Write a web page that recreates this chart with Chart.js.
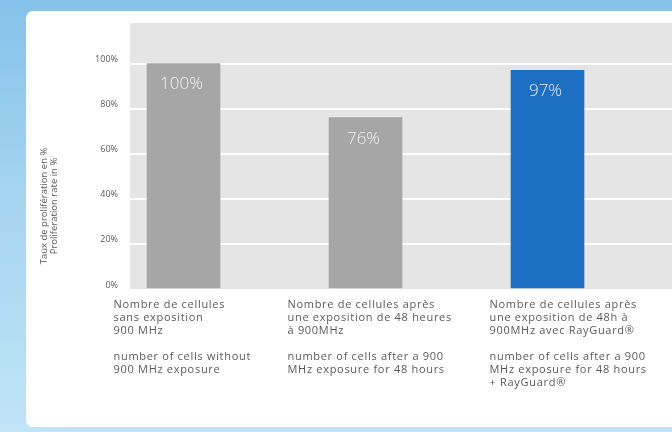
<!DOCTYPE html>
<html><head><meta charset="utf-8">
<script src="https://cdn.jsdelivr.net/npm/chart.js@4/dist/chart.umd.min.js"></script>
<style>
html,body{margin:0;padding:0;width:672px;height:432px;overflow:hidden;}
body{background:linear-gradient(180deg,#86c2ea 0%,#a4d4f0 45%,#c0e4f6 100%);position:relative;}
#panel{position:absolute;left:26px;top:11px;width:700px;height:416px;background:#fff;border-top-left-radius:7px;border-bottom-left-radius:7px;}
#wrap{position:absolute;left:0;top:0;width:672px;height:432px;}
</style></head>
<body><div id="panel"></div><div id="wrap"><canvas id="c"></canvas></div>
<script>
// ---- data ----
const categories = [
  ["Nombre de cellules", "sans exposition", "900 MHz", "", "number of cells without", "900 MHz exposure"],
  ["Nombre de cellules après", "une exposition de 48 heures", "à 900MHz", "", "number of cells after a 900", "MHz exposure for 48 hours"],
  ["Nombre de cellules après", "une exposition de 48h à", "900MHz avec RayGuard®", "", "number of cells after a 900", "MHz exposure for 48 hours", "+ RayGuard®"]
];
const values = [100, 76, 97];
const yTicks = [0, 20, 40, 60, 80, 100];
const yTitle = ["Taux de prolifération en %", "Proliferation rate in %"];

// ---- style ----
const barColors = ['#a6a6a6', '#a6a6a6', '#1d6fc4'];
const labelDx = [-70, -78, -58];
const textColor = '#5a5a5a';

const plotBg = {
  id: 'plotBg',
  beforeDraw(chart) {
    const {ctx, chartArea: a} = chart;
    ctx.save();
    ctx.fillStyle = '#e5e5e5';
    ctx.fillRect(a.left, a.top, a.right - a.left, a.bottom - a.top);
    ctx.restore();
  }
};
const valueLabels = {
  id: 'valueLabels',
  afterDatasetsDraw(chart) {
    const {ctx} = chart;
    const meta = chart.getDatasetMeta(0);
    ctx.save();
    ctx.font = '300 17px "Open Sans", sans-serif';
    ctx.fillStyle = 'rgba(245,245,245,0.95)';
    ctx.textAlign = 'center';
    ctx.textBaseline = 'middle';
    meta.data.forEach((bar, i) => {
      ctx.fillText(values[i] + '%', bar.x - 2, bar.y + 21);
    });
    ctx.restore();
  }
};
const catLabels = {
  id: 'catLabels',
  afterDraw(chart) {
    const {ctx} = chart;
    const xs = chart.scales.x;
    ctx.save();
    ctx.font = '11px "Open Sans", sans-serif';
    if ('letterSpacing' in ctx) ctx.letterSpacing = '0.7px';
    ctx.fillStyle = textColor;
    ctx.textAlign = 'left';
    ctx.textBaseline = 'middle';
    categories.forEach((lines, i) => {
      const x = xs.getPixelForValue(i) + labelDx[i];
      lines.forEach((ln, k) => ctx.fillText(ln, x, chart.chartArea.bottom + 16 + k * 13));
    });
    if ('letterSpacing' in ctx) ctx.letterSpacing = '0px';
    // y title
    ctx.font = '9.5px "Open Sans", sans-serif';
    ctx.textAlign = 'center';
    yTitle.forEach((t, k) => {
      ctx.save();
      ctx.translate(44 + k * 10, 206);
      ctx.rotate(-Math.PI / 2);
      ctx.fillText(t, 0, 0);
      ctx.restore();
    });
    ctx.restore();
  }
};

new Chart(document.getElementById('c'), {
  type: 'bar',
  data: {
    datasets: [{
      data: values.map((v, i) => ({x: i, y: v})),
      backgroundColor: barColors,
      borderWidth: 0,
      barThickness: 73
    }]
  },
  options: {
    responsive: true,
    maintainAspectRatio: false,
    animation: false,
    layout: {padding: {top: 23, bottom: 143, left: 0, right: 0}},
    plugins: {legend: {display: false}, tooltip: {enabled: false}},
    scales: {
      x: {type: 'linear', offset: false, min: -0.294, max: 2.684, display: false},
      y: {
        min: 0, max: 118,
        afterBuildTicks: s => { s.ticks = yTicks.map(v => ({value: v})); },
        afterFit: s => { s.width = 130; },
        border: {display: false},
        grid: {color: c => (c.tick && c.tick.value === 0) ? 'rgba(0,0,0,0)' : '#ffffff', lineWidth: 2, drawTicks: false},
        ticks: {padding: 12, labelOffset: -4, color: textColor, font: {family: '"Open Sans", sans-serif', size: 9}, callback: v => v + '%'}
      }
    }
  },
  plugins: [plotBg, valueLabels, catLabels]
});
</script>
</body></html>
